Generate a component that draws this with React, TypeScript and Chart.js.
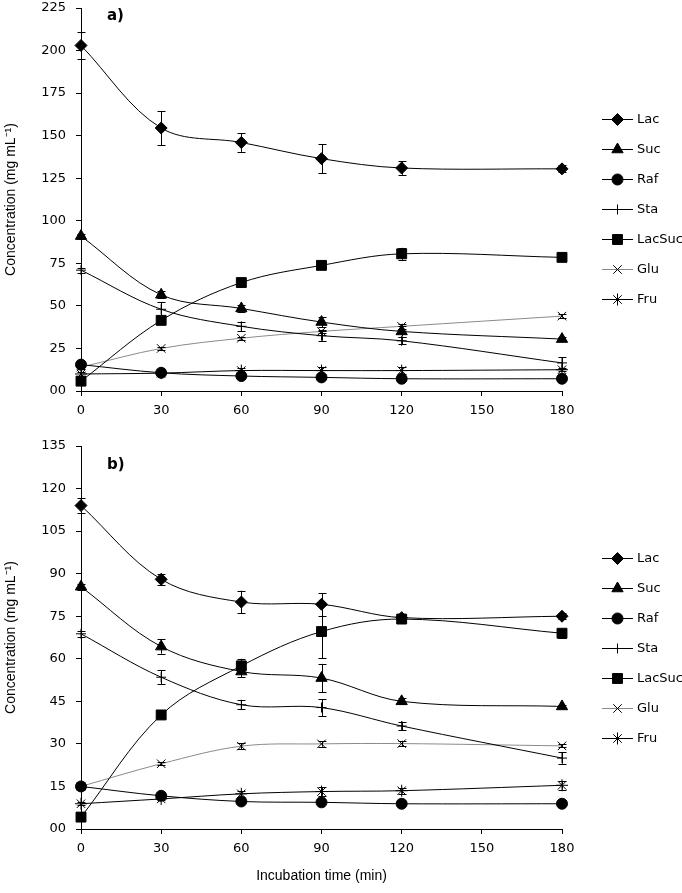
import React, { useEffect, useRef } from 'react';
import { Chart, registerables } from 'chart.js';
import { drawPoint } from 'chart.js/helpers';

Chart.register(...registerables);

// ---------- data ----------
const times = [0, 30, 60, 90, 120, 180];
const xTicks = [0, 30, 60, 90, 120, 150, 180];
const seriesNames = ['Lac', 'Suc', 'Raf', 'Sta', 'LacSuc', 'Glu', 'Fru'];

// panel a)
const lacA = [203, 154.5, 146, 136.5, 131, 130.5];
const sucA = [91, 56.5, 48.5, 40.5, 35, 30.5];
const rafA = [15.5, 10.7, 8.8, 8, 7.2, 7.2];
const staA = [71, 48, 38, 32.5, 29.5, 16.5];
const lacSucA = [5.8, 41.5, 63.7, 73.8, 80.6, 78.5];
const gluA = [14, 25, 31, 35, 38, 44];
const fruA = [10, 10.5, 12, 12, 12, 12.5];
const lacErrA = [8, 10, 5.5, 8.5, 4, 2];
const sucErrA = [1.5, 2, 2, 3, 3, 1];
const rafErrA = [0.8, 0.8, 0.8, 0.8, 0.8, 0.8];
const staErrA = [1.5, 4, 2.5, 3, 2, 3.5];
const lacSucErrA = [1, 2, 1, 1, 3.5, 1];
const gluErrA = [1, 1, 1, 1, 1.5, 1];
const fruErrA = [1, 1, 1.5, 2, 2, 1];
const yTicksA = [0, 25, 50, 75, 100, 125, 150, 175, 200, 225];

// panel b)
const lacB = [114, 88, 80, 79.2, 74.5, 75];
const sucB = [85.4, 64.3, 55.5, 53.2, 45, 43.2];
const rafB = [15, 11.7, 9.7, 9.4, 8.9, 8.9];
const staB = [68.8, 53.5, 43.8, 42.8, 36.3, 25];
const lacSucB = [4.2, 40.2, 57.5, 69.6, 74, 69];
const gluB = [15, 23, 29.2, 30, 30.1, 29.3];
const fruB = [8.9, 10.6, 12.4, 13.2, 13.5, 15.4];
const lacErrB = [2.5, 2, 4, 4, 1, 1];
const sucErrB = [1, 2.5, 2, 5, 1, 0.5];
const rafErrB = [0.5, 0.5, 0.5, 0.5, 0.5, 0.5];
const staErrB = [1, 2.5, 1.5, 3, 1.5, 2];
const lacSucErrB = [0.5, 0.5, 2.5, 9.5, 1, 1.5];
const gluErrB = [0.5, 0.5, 1, 1, 1, 0.5];
const fruErrB = [0.5, 0.5, 1, 1.5, 1, 1.5];
const yTicksB = [0, 15, 30, 45, 60, 75, 90, 105, 120, 135];

// ---------- styles ----------
const FONT = "'DejaVu Sans', Verdana, sans-serif";
const TITLE_FONT = "'Liberation Sans', Arial, sans-serif";
const pointStyles = ['rectRot', 'triangle', 'circle', 'cross', 'rect', 'crossRot', 'star'];
const pointRadii = [6, 6.5, 5.5, 5, 7, 6, 6];
const lineColors = ['#000', '#000', '#000', '#000', '#000', '#8a8a8a', '#000'];

type Panel = {
  label: string;
  values: number[][];
  errors: number[][];
  yTicks: number[];
  showXTitle: boolean;
  canvasHeight: number;
  padTop: number;
  xAxisHeight: number;
  labelY: number;
  legendTop: number;
};

const panels: Panel[] = [
  {
    label: 'a)',
    values: [lacA, sucA, rafA, staA, lacSucA, gluA, fruA],
    errors: [lacErrA, sucErrA, rafErrA, staErrA, lacSucErrA, gluErrA, fruErrA],
    yTicks: yTicksA,
    showXTitle: false,
    canvasHeight: 430,
    padTop: 5,
    xAxisHeight: 39,
    labelY: 16,
    legendTop: 119,
  },
  {
    label: 'b)',
    values: [lacB, sucB, rafB, staB, lacSucB, gluB, fruB],
    errors: [lacErrB, sucErrB, rafErrB, staErrB, lacSucErrB, gluErrB, fruErrB],
    yTicks: yTicksB,
    showXTitle: true,
    canvasHeight: 463,
    padTop: 16,
    xAxisHeight: 64,
    labelY: 35,
    legendTop: 128,
  },
];

function makeConfig(p: Panel): any {
  const errorBars = {
    id: 'errorBars',
    afterDatasetsDraw(chart: any) {
      const ctx = chart.ctx;
      const xs = chart.scales.x;
      const ys = chart.scales.y;
      ctx.save();
      ctx.strokeStyle = '#000';
      ctx.lineWidth = 1;
      p.values.forEach((vals, i) => {
        vals.forEach((v, j) => {
          const e = p.errors[i][j];
          const x = Math.round(xs.getPixelForValue(times[j])) + 0.5;
          const y1 = ys.getPixelForValue(v + e);
          const y2 = ys.getPixelForValue(v - e);
          ctx.beginPath();
          ctx.moveTo(x, y1);
          ctx.lineTo(x, y2);
          ctx.moveTo(x - 4, Math.round(y1) + 0.5);
          ctx.lineTo(x + 4, Math.round(y1) + 0.5);
          ctx.moveTo(x - 4, Math.round(y2) + 0.5);
          ctx.lineTo(x + 4, Math.round(y2) + 0.5);
          ctx.stroke();
        });
      });
      ctx.restore();
    },
  };

  const decorations = {
    id: 'decorations',
    afterDraw(chart: any) {
      const ctx = chart.ctx;
      ctx.save();
      // panel label
      ctx.fillStyle = '#000';
      ctx.font = `bold 15px ${FONT}`;
      ctx.textBaseline = 'middle';
      ctx.textAlign = 'left';
      ctx.fillText(p.label, 107, p.labelY);
      // legend
      ctx.font = `13px ${FONT}`;
      seriesNames.forEach((name, i) => {
        const y = p.legendTop + i * 30;
        ctx.strokeStyle = lineColors[i];
        ctx.lineWidth = 1;
        ctx.beginPath();
        ctx.moveTo(602, y + 0.5);
        ctx.lineTo(633, y + 0.5);
        ctx.stroke();
        ctx.fillStyle = '#000';
        ctx.strokeStyle = '#000';
        drawPoint(ctx, { pointStyle: pointStyles[i], radius: pointRadii[i], borderWidth: 1, rotation: 0 } as any, 617.5, y + 0.5);
        ctx.fillStyle = '#000';
        ctx.textAlign = 'left';
        ctx.textBaseline = 'middle';
        ctx.fillText(name, 637, y + 1);
      });
      ctx.restore();
    },
  };

  return {
    type: 'line',
    data: {
      datasets: seriesNames.map((name, i) => ({
        label: name,
        data: times.map((t, j) => ({ x: t, y: p.values[i][j] })),
        borderColor: lineColors[i],
        borderWidth: 1,
        backgroundColor: '#000',
        pointBackgroundColor: '#000',
        pointBorderColor: '#000',
        pointBorderWidth: 1,
        pointStyle: pointStyles[i],
        pointRadius: pointRadii[i],
        tension: 0.35,
        fill: false,
        clip: false,
      })),
    },
    options: {
      responsive: false,
      animation: false,
      events: [],
      layout: { padding: { top: p.padTop, right: 120, bottom: 0, left: 0 } },
      plugins: {
        legend: { display: false },
        tooltip: { enabled: false },
      },
      scales: {
        x: {
          type: 'linear',
          min: 0,
          max: 180,
          afterBuildTicks(scale: any) {
            scale.ticks = xTicks.map((v) => ({ value: v }));
          },
          afterFit(scale: any) {
            scale.height = p.xAxisHeight;
            scale.paddingLeft = 0;
            scale.paddingRight = 0;
          },
          ticks: {
            color: '#000',
            font: { family: FONT, size: 13 },
            padding: 7,
            maxRotation: 0,
            autoSkip: false,
          },
          grid: { display: true, drawOnChartArea: false, drawTicks: true, tickLength: 5, color: '#000' },
          border: { display: true, color: '#000', width: 1 },
          title: {
            display: p.showXTitle,
            text: 'Incubation time (min)',
            color: '#000',
            font: { family: TITLE_FONT, size: 14 },
            padding: { top: 0, bottom: 8 },
          },
        },
        y: {
          type: 'linear',
          min: 0,
          max: p.yTicks[p.yTicks.length - 1],
          afterBuildTicks(scale: any) {
            scale.ticks = p.yTicks.map((v) => ({ value: v }));
          },
          afterFit(scale: any) {
            scale.width = 81;
            scale.paddingTop = 0;
            scale.paddingBottom = 0;
          },
          ticks: {
            color: '#000',
            font: { family: FONT, size: 13 },
            padding: 10,
            autoSkip: false,
            callback: (v: number) => (v === 0 ? '00' : String(v)),
          },
          grid: { display: true, drawOnChartArea: false, drawTicks: true, tickLength: 5, color: '#000' },
          border: { display: true, color: '#000', width: 1 },
          title: {
            display: true,
            text: 'Concentration (mg mL⁻¹)',
            color: '#000',
            font: { family: TITLE_FONT, size: 14 },
            padding: { top: 3, bottom: 0 },
          },
        },
      },
    },
    plugins: [errorBars, decorations],
  };
}

function PanelChart({ p, top }: { p: Panel; top: number }) {
  const ref = useRef<HTMLCanvasElement | null>(null);
  useEffect(() => {
    if (!ref.current) return;
    const chart = new Chart(ref.current, makeConfig(p));
    return () => chart.destroy();
  }, [p]);
  return (
    <canvas
      ref={ref}
      width={682}
      height={p.canvasHeight}
      style={{ position: 'absolute', left: 0, top, width: 682, height: p.canvasHeight }}
    />
  );
}

export default function App() {
  return (
    <div style={{ position: 'absolute', left: 0, top: 0, width: 682, height: 893, background: '#fff' }}>
      <PanelChart p={panels[0]} top={0} />
      <PanelChart p={panels[1]} top={430} />
    </div>
  );
}
